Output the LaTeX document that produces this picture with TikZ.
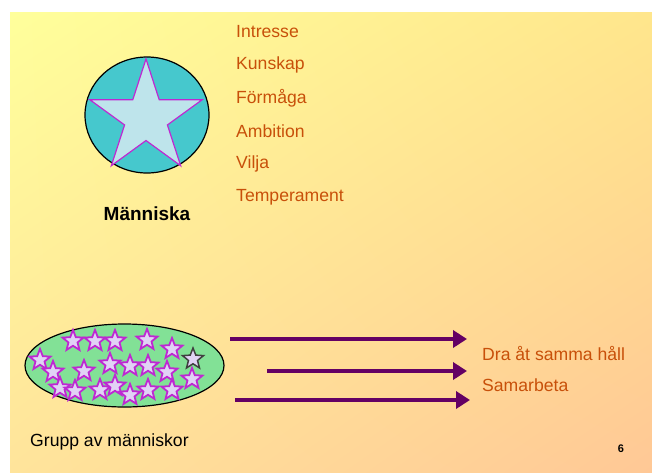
\documentclass[tikz,border=0pt]{standalone}
\usepackage{fontspec}
\setmainfont{Liberation Sans}
\usetikzlibrary{shapes.geometric,arrows.meta,shadings}
\definecolor{bgUL}{RGB}{255,255,155}
\definecolor{bgUR}{RGB}{255,230,140}
\definecolor{bgLL}{RGB}{255,228,155}
\definecolor{bgLR}{RGB}{255,200,150}
\definecolor{teal1}{RGB}{70,200,205}
\definecolor{starfill}{RGB}{190,228,235}
\definecolor{starline}{RGB}{190,40,210}
\definecolor{grpfill}{RGB}{130,225,150}
\definecolor{smallfill}{RGB}{225,210,245}
\definecolor{txtorange}{RGB}{200,80,10}
\definecolor{arrowpurple}{RGB}{100,0,100}
\tikzset{
  lbl/.style={anchor=west, inner sep=0pt, text=txtorange, font=\fontsize{17.6}{20}\selectfont},
  bigstar/.style={star, star points=5, star point ratio=2.62, minimum size=118pt, inner sep=0pt, fill=starfill, draw=starline, line width=1.2pt},
  smallstar/.style={star, star points=5, star point ratio=2.3, minimum size=22pt, inner sep=0pt, fill=smallfill, draw=starline, line width=1.8pt},
  flow/.style={line width=4.5pt, draw=arrowpurple, -{Triangle[length=14pt,width=17pt]}}
}
\begin{document}
\begin{tikzpicture}[x=1pt,y=-1pt]
\useasboundingbox (0,0) rectangle (652,472);
\shade[upper left=bgUL, upper right=bgUR, lower left=bgLL, lower right=bgLR] (10,12) rectangle (652,472);

% person
\node[ellipse, minimum width=124pt, minimum height=116pt, inner sep=0pt, fill=teal1, draw=black, line width=1.2pt] (person) at (147,115) {};
\node[bigstar] (pstar) at (146,118) {};
\node[inner sep=0pt, font=\bfseries\fontsize{19}{22}\selectfont] (mtitle) at (147,214) {Människa};

\node[lbl] (l1) at (236,32) {Intresse};
\node[lbl] (l2) at (236,65) {Kunskap};
\node[lbl] (l3) at (236,98) {Förmåga};
\node[lbl] (l4) at (236,131) {Ambition};
\node[lbl] (l5) at (236,164) {Vilja};
\node[lbl] (l6) at (236,197) {Temperament};

% group
\node[ellipse, minimum width=199pt, minimum height=83pt, inner sep=0pt, fill=grpfill, draw=black, line width=1.2pt] (group) at (124.5,365.5) {};
\foreach \i/\x/\y in {a/73/341,b/95/341,c/115/341,d/147/340,e/172/349,
  f/40/360,g/53/372,h/84/371,i/110/364,j/130/366,k/148/366,l/167/372,m/192/379,
  n/60/388,o/75/391,p/100/390,q/115/386,r/130/395,s/148/390,t/172/390}
  \node[smallstar] (s\i) at (\x,\y) {};
\node[smallstar, draw=black!75, line width=1.5pt] (sdark) at (193,359) {};

\node[anchor=west, inner sep=0pt, font=\fontsize{17.6}{20}\selectfont] (gtitle) at (30,442) {Grupp av människor};
\node[inner sep=0pt, font=\bfseries\fontsize{11}{13}\selectfont] (pnum) at (621,449) {6};

% arrows
\coordinate (a1s) at (230,339); \coordinate (a1e) at (467,339);
\coordinate (a2s) at (267,371); \coordinate (a2e) at (467,371);
\coordinate (a3s) at (235,400); \coordinate (a3e) at (470,400);
\draw[flow] (a1s) -- (a1e);
\draw[flow] (a2s) -- (a2e);
\draw[flow] (a3s) -- (a3e);

\node[lbl] (r1) at (482,353) {Dra åt samma håll};
\node[lbl] (r2) at (482,385) {Samarbeta};
\end{tikzpicture}
\end{document}
